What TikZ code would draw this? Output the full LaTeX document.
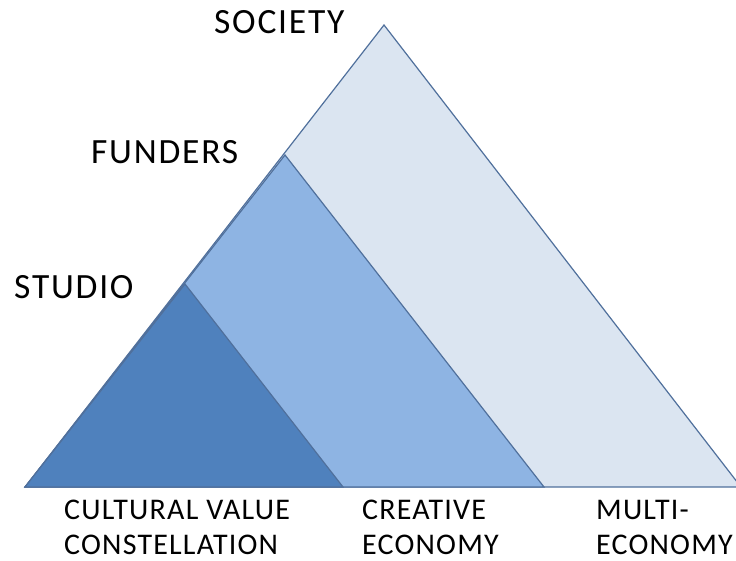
\documentclass[tikz,border=0pt]{standalone}
\usepackage{fontspec}
\setmainfont{Carlito}
\newfontfamily\labelfont[LetterSpace=5]{Carlito}
\newfontfamily\basefont[LetterSpace=4]{Carlito}
\definecolor{edgeblue}{RGB}{80,112,156}
\definecolor{societyfill}{RGB}{219,229,241}
\definecolor{fundersfill}{RGB}{142,180,227}
\definecolor{studiofill}{RGB}{79,129,189}
\tikzset{
  tri/.style={draw=edgeblue, line width=1.2pt, line join=miter},
  toplabel/.style={anchor=base west, inner sep=0pt, font=\labelfont\fontsize{35.5}{40}\selectfont},
  baselabel/.style={anchor=base west, inner sep=0pt, text depth=0pt, font=\basefont\fontsize{30}{34}\selectfont}
}
\begin{document}
\begin{tikzpicture}[x=1pt,y=-1pt]
\useasboundingbox (0,0) rectangle (736,560);
% nested layers, widest first
\coordinate (sA) at (384,25);
\coordinate (sL) at (25,487);
\coordinate (sR) at (741,487);
\coordinate (fA) at (285,155);
\coordinate (fR) at (544,487);
\coordinate (tA) at (185,284);
\coordinate (tR) at (343,487);
\fill[societyfill] (sA) -- (sL) -- (sR) -- cycle;
\draw[tri] (sA) -- (sL) -- (sR) -- cycle;
\filldraw[tri, fill=fundersfill] (fA) -- (sL) -- (fR) -- cycle;
\filldraw[tri, fill=studiofill] (tA) -- (sL) -- (tR) -- cycle;
% level labels
\node[toplabel] (society) at (214,33) {SOCIETY};
\node[toplabel] (funders) at (91,163) {FUNDERS};
\node[toplabel] (studio) at (14,298) {STUDIO};
% base labels
\node[baselabel] (cv1) at (64,519) {CULTURAL VALUE};
\node[baselabel] (cv2) at (64,554) {CONSTELLATION};
\node[baselabel] (ce1) at (362,519) {CREATIVE};
\node[baselabel] (ce2) at (362,554) {ECONOMY};
\node[baselabel] (me1) at (596,519) {MULTI-};
\node[baselabel] (me2) at (596,554) {ECONOMY};
\end{tikzpicture}
\end{document}
